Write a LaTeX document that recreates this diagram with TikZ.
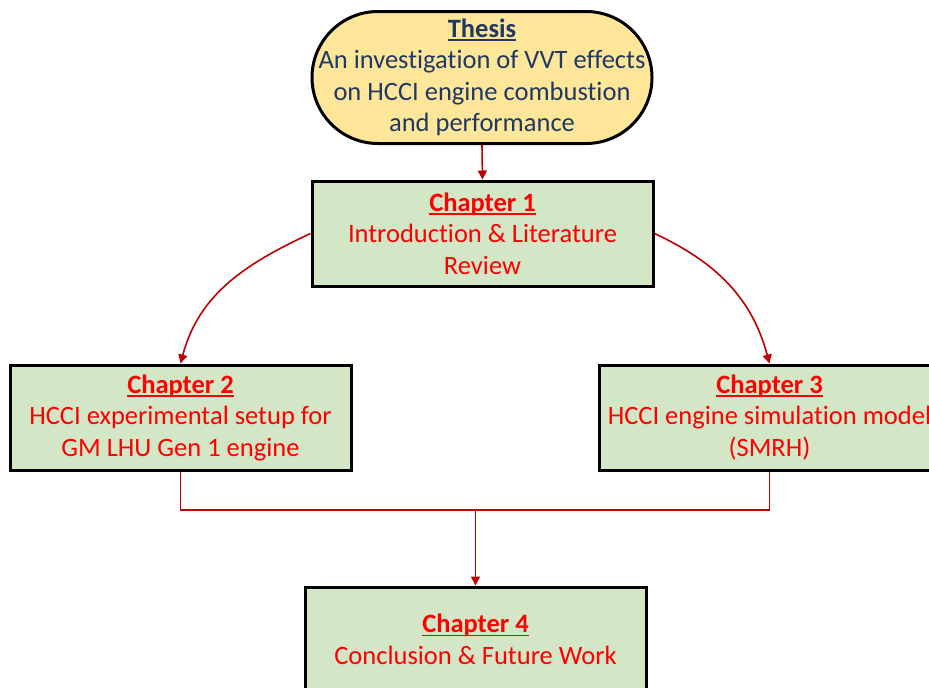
\documentclass[tikz,border=0pt]{standalone}
\usepackage{fontspec}
\setmainfont{Carlito}[Ligatures=NoCommon]
\usetikzlibrary{positioning,arrows.meta}

\definecolor{thesisfill}{HTML}{FFE699}
\definecolor{thesistext}{HTML}{1F3864}
\definecolor{chapfill}{HTML}{D3E6C6}
\definecolor{linkred}{HTML}{C00000}

\newsavebox{\headbox}
\newcommand{\headtitle}[1]{\sbox{\headbox}{\textbf{#1}}\rlap{\usebox{\headbox}}\rule[-3.5pt]{\wd\headbox}{1.6pt}}

\tikzset{
    chapbox/.style={draw=black, line width=3pt, fill=chapfill, text=red,
        minimum width=341pt, minimum height=105pt, align=center,
        font=\fontsize{26.5}{31.5}\selectfont},
    thesisbox/.style={draw=black, line width=3pt, fill=thesisfill, text=thesistext,
        rounded corners=66pt, minimum width=340pt, minimum height=132pt,
        align=center, font=\fontsize{26.5}{31.5}\selectfont},
    link/.style={draw=linkred, line width=1.6pt, -{Triangle[width=9pt,length=9pt]}},
    plainlink/.style={draw=linkred, line width=1.6pt}
}

\begin{document}
\begin{tikzpicture}[x=1pt, y=-1pt]
    % Rahmen (Bildgröße)
    \useasboundingbox (0,0) rectangle (929,688);
    \clip (0,0) rectangle (929,688);

    % Knoten
    \node[thesisbox] (thesis) at (482,77.5)
        {\headtitle{Thesis}\\An investigation of VVT effects\\on HCCI engine combustion\\and performance};
    \node[chapbox] (ch1) at (482.5,233.5)
        {\headtitle{Chapter 1}\\Introduction \& Literature\\Review};
    \node[chapbox] (ch2) at (180.5,417.5)
        {\headtitle{Chapter 2}\\HCCI experimental setup for\\GM LHU Gen 1 engine};
    \node[chapbox] (ch3) at (769.5,417.5)
        {\headtitle{Chapter 3}\\HCCI engine simulation model\\(SMRH)};
    \node[chapbox] (ch4) at (475.5,639.5)
        {\headtitle{Chapter 4}\\Conclusion \& Future Work};

    % Verbindungen
    \draw[link] (thesis.south) -- (ch1.north);
    \draw[link] (ch1.west) to[out=205, in=75] (ch2.north);
    \draw[link] (ch1.east) to[out=-25, in=105] (ch3.north);

    \coordinate (join) at (ch4.north |- 0,510);
    \draw[plainlink] (ch2.south) |- (join) -| (ch3.south);
    \draw[link] (join) -- (ch4.north);

\end{tikzpicture}
\end{document}
